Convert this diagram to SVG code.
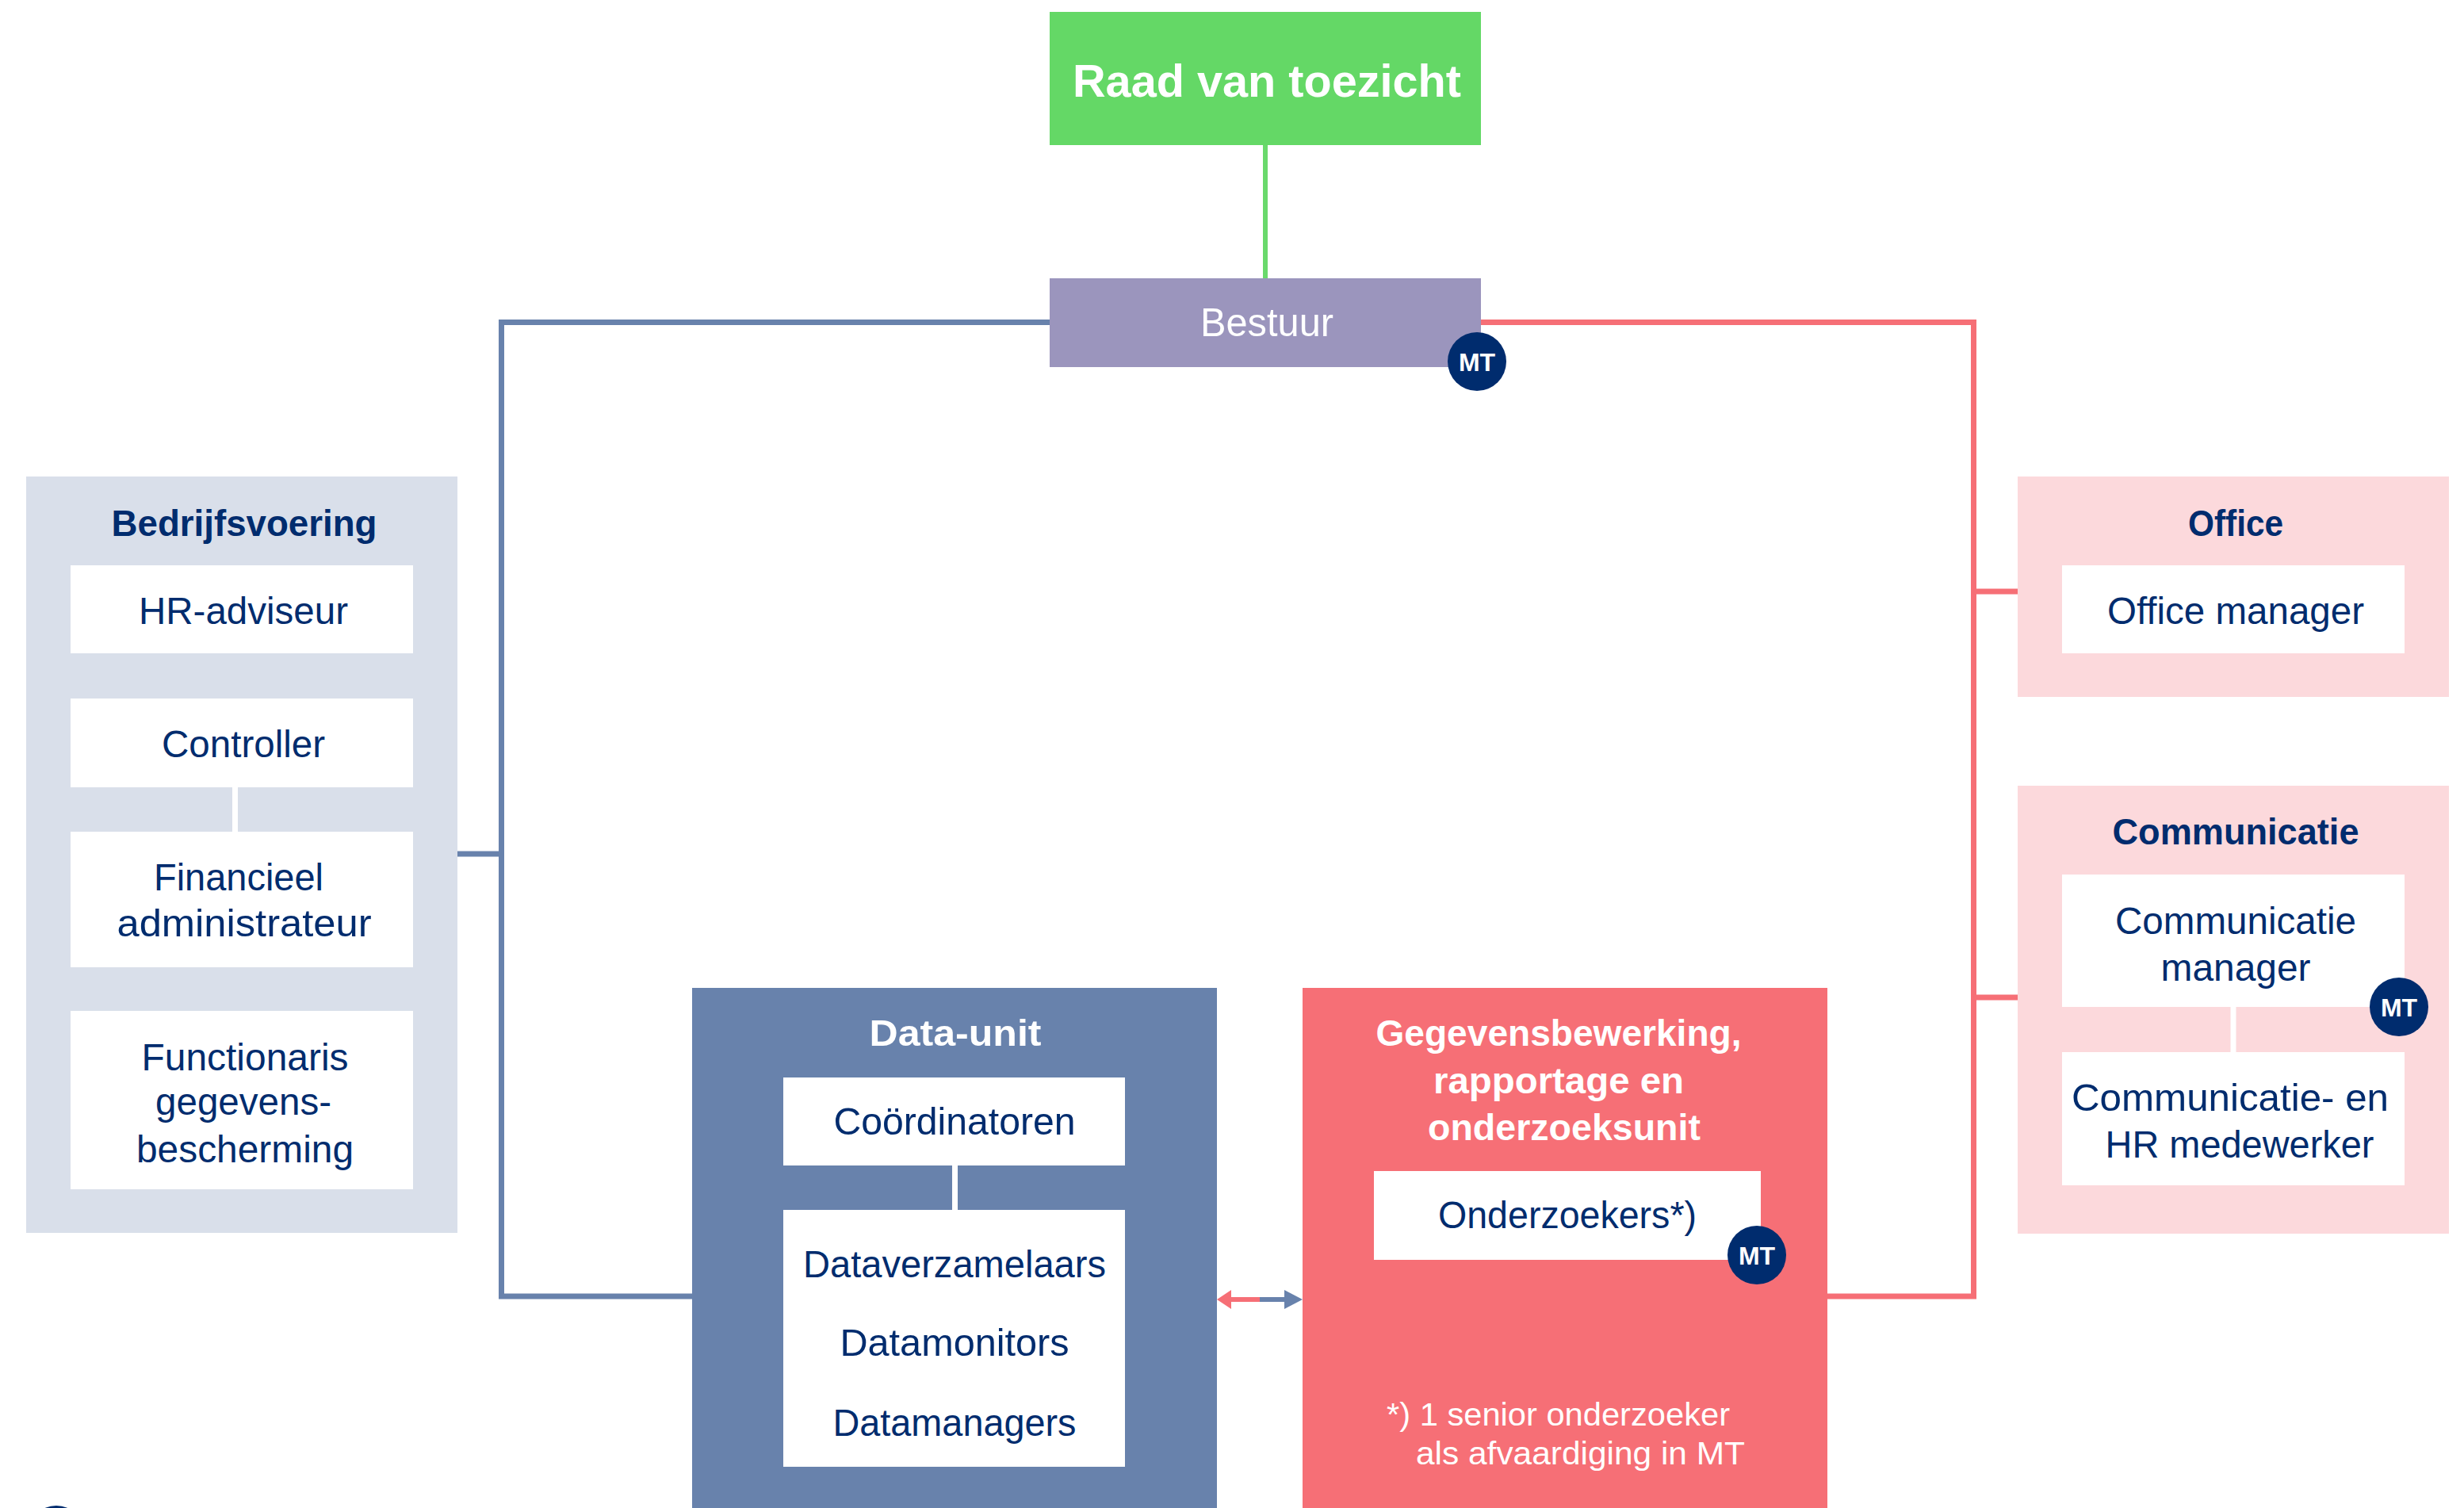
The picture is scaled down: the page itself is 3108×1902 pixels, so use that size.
<svg xmlns="http://www.w3.org/2000/svg" width="3108" height="1902" viewBox="0 0 3108 1902">
<style>
  text { font-family: "Liberation Sans", Arial, sans-serif; text-anchor: middle; }
  .in { font-size: 48px; fill: #002C6E; }
  .ttl { font-size: 46px; font-weight: bold; fill: #002C6E; }
  .wttl { font-size: 46px; font-weight: bold; fill: #FFFFFF; }
  .box { fill: #FFFFFF; }
  .mt circle { fill: #002C6E; }
  .mt text { font-size: 32px; font-weight: bold; fill: #FFFFFF; }
  .blue { stroke: #6882AC; stroke-width: 7; fill: none; }
  .red { stroke: #F66F76; stroke-width: 7; fill: none; }
  .green { stroke: #6AD96C; stroke-width: 6; fill: none; }
  .wl { stroke: #FFFFFF; stroke-width: 7; }
</style>
<rect width="3108" height="1902" fill="#FFFFFF"/>

<g id="connectors">
  <line class="green" x1="1596" y1="183" x2="1596" y2="351"/>
  <polyline class="blue" points="1324,406.5 632.5,406.5 632.5,1635 873,1635"/>
  <line class="blue" x1="577" y1="1077" x2="632.5" y2="1077"/>
  <polyline class="red" points="1868,406.5 2489.5,406.5 2489.5,1635 2305,1635"/>
  <line class="red" x1="2489.5" y1="746" x2="2545" y2="746"/>
  <line class="red" x1="2489.5" y1="1258" x2="2545" y2="1258"/>
  <g id="double-arrow">
    <line x1="1550" y1="1639" x2="1589" y2="1639" stroke="#F66F76" stroke-width="6"/>
    <polygon points="1535,1639 1553,1627 1553,1651" fill="#F66F76"/>
    <line x1="1589" y1="1639" x2="1626" y2="1639" stroke="#6882AC" stroke-width="6"/>
    <polygon points="1643,1639 1620,1627 1620,1651" fill="#6882AC"/>
  </g>
</g>

<g id="raad-van-toezicht">
  <rect x="1324" y="15" width="544" height="168" fill="#64D866"/>
  <text x="1598" y="122" font-size="58" font-weight="bold" fill="#FFFFFF" textLength="490" lengthAdjust="spacingAndGlyphs">Raad van toezicht</text>
</g>

<g id="bestuur">
  <rect x="1324" y="351" width="544" height="112" fill="#9B95BD"/>
  <text x="1598" y="424" font-size="50" fill="#FFFFFF" textLength="168" lengthAdjust="spacingAndGlyphs">Bestuur</text>
  <g class="mt"><circle cx="1863" cy="456" r="37"/><text x="1863" y="468">MT</text></g>
</g>

<g id="bedrijfsvoering">
  <rect x="33" y="601" width="544" height="954" fill="#D9DFEA"/>
  <text class="ttl" x="308" y="676" textLength="335" lengthAdjust="spacingAndGlyphs">Bedrijfsvoering</text>
  <line class="wl" x1="296.5" y1="993" x2="296.5" y2="1049"/>
  <g id="hr-adviseur">
    <rect class="box" x="89" y="713" width="432" height="111"/>
    <text class="in" x="307" y="787" textLength="264" lengthAdjust="spacingAndGlyphs">HR-adviseur</text>
  </g>
  <g id="controller">
    <rect class="box" x="89" y="881" width="432" height="112"/>
    <text class="in" x="307" y="955" textLength="206" lengthAdjust="spacingAndGlyphs">Controller</text>
  </g>
  <g id="financieel-administrateur">
    <rect class="box" x="89" y="1049" width="432" height="171"/>
    <text class="in" x="301" y="1123" textLength="214" lengthAdjust="spacingAndGlyphs">Financieel</text>
    <text class="in" x="308" y="1181" textLength="321" lengthAdjust="spacingAndGlyphs">administrateur</text>
  </g>
  <g id="functionaris-gegevensbescherming">
    <rect class="box" x="89" y="1275" width="432" height="225"/>
    <text class="in" x="309" y="1350" textLength="261" lengthAdjust="spacingAndGlyphs">Functionaris</text>
    <text class="in" x="307" y="1406" textLength="222" lengthAdjust="spacingAndGlyphs">gegevens-</text>
    <text class="in" x="309" y="1466" textLength="274" lengthAdjust="spacingAndGlyphs">bescherming</text>
  </g>
</g>

<g id="office">
  <rect x="2545" y="601" width="544" height="278" fill="#FCD9DC"/>
  <text class="ttl" x="2820" y="676" textLength="120" lengthAdjust="spacingAndGlyphs">Office</text>
  <g id="office-manager">
    <rect class="box" x="2601" y="713" width="432" height="111"/>
    <text class="in" x="2820" y="787" textLength="324" lengthAdjust="spacingAndGlyphs">Office manager</text>
  </g>
</g>

<g id="communicatie">
  <rect x="2545" y="991" width="544" height="565" fill="#FCD9DC"/>
  <text class="ttl" x="2820" y="1065" textLength="311" lengthAdjust="spacingAndGlyphs">Communicatie</text>
  <line class="wl" x1="2817" y1="1270" x2="2817" y2="1327"/>
  <g id="communicatie-manager">
    <rect class="box" x="2601" y="1103" width="432" height="167"/>
    <text class="in" x="2820" y="1178" textLength="304" lengthAdjust="spacingAndGlyphs">Communicatie</text>
    <text class="in" x="2820" y="1237" textLength="189" lengthAdjust="spacingAndGlyphs">manager</text>
    <g class="mt"><circle cx="3026" cy="1270" r="37"/><text x="3026" y="1282">MT</text></g>
  </g>
  <g id="communicatie-hr-medewerker">
    <rect class="box" x="2601" y="1327" width="432" height="168"/>
    <text class="in" x="2813" y="1401" textLength="400" lengthAdjust="spacingAndGlyphs">Communicatie- en</text>
    <text class="in" x="2825" y="1460" textLength="339" lengthAdjust="spacingAndGlyphs">HR medewerker</text>
  </g>
</g>

<g id="data-unit">
  <rect x="873" y="1246" width="662" height="670" fill="#6882AC"/>
  <text class="wttl" x="1205" y="1319" textLength="217" lengthAdjust="spacingAndGlyphs">Data-unit</text>
  <line class="wl" x1="1204.5" y1="1470" x2="1204.5" y2="1526"/>
  <g id="coordinatoren">
    <rect class="box" x="988" y="1359" width="431" height="111"/>
    <text class="in" x="1204" y="1431" textLength="305" lengthAdjust="spacingAndGlyphs">Coördinatoren</text>
  </g>
  <g id="data-medewerkers">
    <rect class="box" x="988" y="1526" width="431" height="324"/>
    <text class="in" x="1204" y="1611" textLength="382" lengthAdjust="spacingAndGlyphs">Dataverzamelaars</text>
    <text class="in" x="1204" y="1710" textLength="289" lengthAdjust="spacingAndGlyphs">Datamonitors</text>
    <text class="in" x="1204" y="1811" textLength="307" lengthAdjust="spacingAndGlyphs">Datamanagers</text>
  </g>
</g>

<g id="gegevensbewerking">
  <rect x="1643" y="1246" width="662" height="670" fill="#F66F76"/>
  <text class="wttl" x="1966" y="1319" textLength="461" lengthAdjust="spacingAndGlyphs">Gegevensbewerking,</text>
  <text class="wttl" x="1966" y="1379" textLength="316" lengthAdjust="spacingAndGlyphs">rapportage en</text>
  <text class="wttl" x="1973" y="1438" textLength="344" lengthAdjust="spacingAndGlyphs">onderzoeksunit</text>
  <g id="onderzoekers">
    <rect class="box" x="1733" y="1477" width="488" height="112"/>
    <text class="in" x="1977" y="1549" textLength="326" lengthAdjust="spacingAndGlyphs">Onderzoekers*)</text>
    <g class="mt"><circle cx="2216" cy="1583" r="37"/><text x="2216" y="1595">MT</text></g>
  </g>
  <text x="1749" y="1798" font-size="40" fill="#FFFFFF" style="text-anchor:start" textLength="433" lengthAdjust="spacingAndGlyphs">*) 1 senior onderzoeker</text>
  <text x="1786" y="1847" font-size="40" fill="#FFFFFF" style="text-anchor:start" textLength="415" lengthAdjust="spacingAndGlyphs">als afvaardiging in MT</text>
</g>

<circle cx="71" cy="1935" r="36" fill="#002C6E"/>
</svg>
